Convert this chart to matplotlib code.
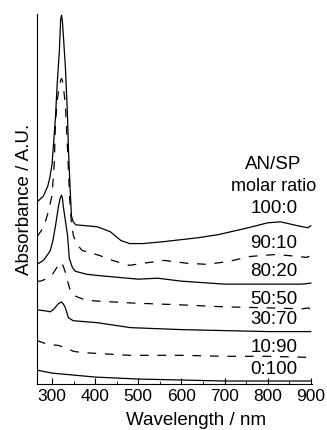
import matplotlib
matplotlib.use('Agg')
import matplotlib.pyplot as plt
from matplotlib.ticker import MultipleLocator

plt.rcParams['font.family'] = ['Liberation Sans', 'DejaVu Sans']

# stacked UV-vis spectra (offset already included)
wl_100_0 = [265, 280, 290, 295, 300, 305, 308, 312, 317, 320, 322, 324, 326, 331, 336, 338, 342, 345,
            349, 355, 380, 405, 435, 460, 480, 510, 560, 640, 685, 715, 755, 800, 830, 870, 893, 900]
ab_100_0 = [1.84, 1.90, 2.00, 2.09, 2.22, 2.52, 2.70, 3.04, 3.37, 3.69, 3.73, 3.67, 3.54, 3.20, 2.70, 2.37, 1.97, 1.70,
            1.64, 1.61, 1.60, 1.59, 1.54, 1.45, 1.42, 1.42, 1.44, 1.48, 1.51, 1.54, 1.58, 1.63, 1.64, 1.60, 1.58, 1.60]

wl_90_10 = [265, 275, 285, 292, 300, 305, 308, 312, 317, 320, 322, 324, 326, 331, 336, 341, 345,
            350, 360, 370, 410, 440, 480, 510, 560, 615, 660, 710, 760, 820, 870, 890, 895, 900]
ab_90_10 = [1.49, 1.55, 1.65, 1.75, 1.91, 2.22, 2.64, 2.87, 3.02, 3.07, 3.09, 3.07, 3.02, 2.82, 2.37, 1.87, 1.62,
            1.49, 1.40, 1.35, 1.30, 1.25, 1.20, 1.22, 1.25, 1.22, 1.21, 1.24, 1.29, 1.31, 1.29, 1.28, 1.29, 1.25]

wl_80_20 = [265, 280, 290, 296, 302, 308, 315, 319, 322, 324, 326, 331, 336, 340, 347, 354,
            380, 400, 450, 500, 545, 600, 700, 800, 880, 900]
ab_80_20 = [1.21, 1.25, 1.31, 1.35, 1.45, 1.60, 1.80, 1.88, 1.91, 1.88, 1.80, 1.65, 1.50, 1.27, 1.18, 1.14,
            1.11, 1.10, 1.08, 1.06, 1.07, 1.04, 1.01, 1.01, 1.01, 1.02]

wl_50_50 = [265, 273, 285, 296, 301, 310, 318, 322, 326, 331, 336, 342, 347, 377, 400, 480,
            600, 700, 800, 880, 895, 900]
ab_50_50 = [1.04, 1.04, 1.06, 1.09, 1.11, 1.17, 1.22, 1.23, 1.19, 1.13, 1.04, 0.95, 0.90, 0.85, 0.84, 0.82,
            0.80, 0.78, 0.77, 0.76, 0.77, 0.74]

wl_30_70 = [265, 284, 296, 305, 314, 322, 326, 331, 338, 349, 405, 482, 600, 700, 800, 900]
ab_30_70 = [0.75, 0.74, 0.73, 0.76, 0.81, 0.83, 0.81, 0.77, 0.67, 0.64, 0.62, 0.57, 0.55, 0.54, 0.53, 0.53]

wl_10_90 = [265, 290, 315, 335, 350, 366, 400, 480, 600, 700, 800, 890, 900]
ab_10_90 = [0.44, 0.40, 0.39, 0.36, 0.33, 0.32, 0.31, 0.29, 0.29, 0.28, 0.28, 0.27, 0.26]

wl_0_100 = [265, 300, 350, 400, 500, 600, 700, 900]
ab_0_100 = [0.14, 0.11, 0.09, 0.07, 0.05, 0.04, 0.03, 0.03]

ratios = ['100:0', '90:10', '80:20', '50:50', '30:70', '10:90', '0:100']
spectra = [(wl_100_0, ab_100_0), (wl_90_10, ab_90_10), (wl_80_20, ab_80_20), (wl_50_50, ab_50_50),
           (wl_30_70, ab_30_70), (wl_10_90, ab_10_90), (wl_0_100, ab_0_100)]

# label heights next to each trace
label_y = [1.77, 1.42, 1.14, 0.85, 0.65, 0.37, 0.15]

fig = plt.figure(figsize=(3.27, 4.30), dpi=100)
ax = fig.add_axes([0.113, 0.107, 0.840, 0.860])

for i, (wl, ab) in enumerate(spectra):
    if i % 2 == 0:
        ax.plot(wl, ab, color='black', lw=0.9)
    else:
        ax.plot(wl, ab, color='black', lw=0.9, linestyle=(0, (7, 7)))

for r, yy in zip(ratios, label_y):
    ax.text(815, yy, r, ha='center', va='center', fontsize=13.5)
ax.text(812, 2.22, 'AN/SP', ha='center', va='center', fontsize=13.5)
ax.text(815, 2.00, 'molar ratio', ha='center', va='center', fontsize=13)

ax.set_xlim(265, 902)
ax.set_ylim(0, 3.74)
ax.spines['top'].set_visible(False)
ax.spines['right'].set_visible(False)
ax.set_yticks([])
ax.xaxis.set_major_locator(MultipleLocator(100))
ax.xaxis.set_minor_locator(MultipleLocator(50))
ax.tick_params(axis='x', which='major', direction='in', length=4, labelsize=12.5, pad=3.5)
ax.tick_params(axis='x', which='minor', direction='in', length=2.5)
ax.set_xlabel('Wavelength / nm', fontsize=13.5)
ax.xaxis.label.set_verticalalignment('bottom')
ax.xaxis.set_label_coords(0.58, -0.1216)
ax.set_ylabel('Absorbance / A.U.', fontsize=13.5, labelpad=3)

fig.savefig('out.png', dpi=100)
